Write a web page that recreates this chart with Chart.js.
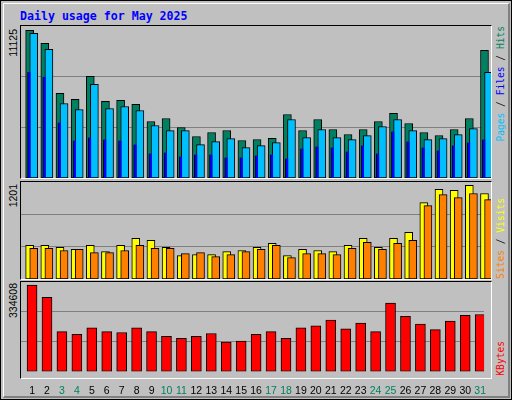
<!DOCTYPE html>
<html>
<head>
<meta charset="utf-8">
<script src="https://cdn.jsdelivr.net/npm/chart.js@4"></script>
<style>
  body { margin: 0; background: #fff; }
  #frame { position: absolute; left: 0; top: 0; width: 510px; height: 398px; border: 1px solid #000; background: #c0c0c0; overflow: hidden; }
  #inner { position: absolute; left: 2px; top: 2px; width: 504px; height: 392px; border-top: 1px solid #fff; border-left: 1px solid #fff; border-right: 2px solid #808080; border-bottom: 2px solid #808080; }
  .panel { position: absolute; left: 19px; width: 470px; border-top: 1px solid #000; border-left: 1px solid #000; border-right: 1px solid #fff; border-bottom: 1px solid #fff; }
  .panel canvas { display: block; }
  #title { position: absolute; left: 19px; top: 8px; font: bold 11.6px "DejaVu Sans Mono", monospace; color: #0000ff; }
  .vt { position: absolute; writing-mode: vertical-rl; transform: rotate(180deg); font: 9.6px "DejaVu Sans Mono", monospace; white-space: pre; }
  .num { font: 10.5px "Liberation Sans", sans-serif; color: #000; }
</style>
</head>
<body>
<div id="frame"><div id="inner"></div>
  <div id="title">Daily usage for May 2025</div>
  <div class="panel" style="top:24px;height:152px"><canvas id="c1" width="470" height="152"></canvas></div>
  <div class="panel" style="top:180px;height:97px"><canvas id="c2" width="470" height="97"></canvas></div>
  <div class="panel" style="top:280px;height:96px"><div style="position:relative;height:120px"><canvas id="c3" width="470" height="120"></canvas></div></div>
  <div class="vt num" style="left:6px;top:28px">11125</div>
  <div class="vt num" style="left:6px;top:183px">1201</div>
  <div class="vt num" style="left:6px;top:282px">334608</div>
  <div class="vt" style="left:494px;top:25px"><span style="color:#00bfff">Pages</span><span style="color:#000"> / </span><span style="color:#0000ff">Files</span><span style="color:#000"> / </span><span style="color:#008060">Hits</span></div>
  <div class="vt" style="left:494px;top:197px"><span style="color:#ff8000">Sites</span><span style="color:#000"> / </span><span style="color:#ffff00">Visits</span></div>
  <div class="vt" style="left:494px;top:340px;color:#ff0000">KBytes</div>
</div>
<script>
var days = [];
for (var i = 1; i <= 31; i++) days.push(i);
var weekendDays = [3, 4, 10, 11, 17, 18, 24, 25, 31];

var hits = [11125,10147,6372,5919,7655,5768,5843,5541,4258,4484,3805,3125,3428,3578,2823,2899,2997,4786,3578,4409,3654,3276,3654,4258,4862,4107,3428,3201,3654,4484,9618];
var files = [10898,9690,5613,5160,7048,5235,5386,5084,3952,3574,3574,2517,2744,2970,2290,2441,2668,4405,3046,3650,3046,2895,3197,3876,4405,3574,2895,2970,3272,3725,7954];
var pages = [7979,7627,4178,2819,3045,2895,2819,2517,1838,1913,1611,1762,1762,1535,1535,1686,1762,1460,2215,2366,2290,1988,2441,1838,3499,2743,2290,2064,2441,2668,2894];
var sites = [431,431,405,379,431,352,431,522,496,405,300,313,313,352,365,405,457,300,379,365,352,431,522,405,522,600,979,1149,1136,1201,1096];
var visits = [392,392,365,379,339,339,365,431,392,392,326,339,287,313,352,379,431,274,326,326,313,392,470,379,457,496,940,1083,1044,1096,1018];
var kbytes = [334608,286814,154438,143407,169147,154438,150761,169147,154438,136053,128699,136053,147084,113990,117667,143407,154438,128699,169147,176501,198563,165470,187532,154438,264751,213272,183855,161792,194886,216949,220626];

function pts(arr) { return arr.map(function (v, i) { return { x: days[i], y: v }; }); }
function xAxis(shift, show) {
  var ax = { type: 'linear', min: 0.5 - shift, max: 31.5 - shift, display: show, offset: false,
    grid: { display: false }, border: { display: false } };
  if (show) {
    ax.afterBuildTicks = function (s) { s.ticks = days.map(function (d) { return { value: d }; }); };
    ax.ticks = { autoSkip: false, maxRotation: 0, padding: 5,
      font: { family: 'Liberation Sans', size: 10.5 },
      color: function (c) { return weekendDays.indexOf(c.tick.value) >= 0 ? '#008060' : '#000'; } };
  }
  return ax;
}
function yAxis(max) {
  return { min: 0, max: max, display: true,
    afterBuildTicks: function (s) { s.ticks = [{ value: max / 3 }, { value: 2 * max / 3 }]; },
    ticks: { display: false }, border: { display: false },
    grid: { color: '#808080', lineWidth: 1, drawTicks: false } };
}
function bar(label, arr, color, axis, w, order, bw) {
  return { label: label, data: pts(arr), backgroundColor: color, borderColor: '#000',
    borderWidth: bw === undefined ? 1 : bw, borderSkipped: false, barThickness: w, xAxisID: axis, order: order, grouped: false };
}
var base = { responsive: false, animation: false, layout: { padding: 0 },
  plugins: { legend: { display: false }, tooltip: { enabled: false } } };

new Chart(document.getElementById('c1'), {
  type: 'bar',
  data: { datasets: [
    bar('Hits', hits, '#008060', 'xh', 8, 3),
    bar('Files', files, '#00bfff', 'xf', 8, 2),
    bar('Pages', pages, '#0000ff', 'xp', 3, 1, { left: 1, right: 0, top: 0, bottom: 0 })
  ] },
  options: Object.assign({}, base, { scales: { xh: xAxis(0.07, false), xf: xAxis(0.34, false), xp: xAxis(0.03, false), y: yAxis(11449) } })
});

new Chart(document.getElementById('c2'), {
  type: 'bar',
  data: { datasets: [
    bar('Sites', sites, '#ffff00', 'xs', 8, 2),
    bar('Visits', visits, '#ff8000', 'xv', 8, 1)
  ] },
  options: Object.assign({}, base, { scales: { xs: xAxis(0.07, false), xv: xAxis(0.34, false), y: yAxis(1244) } })
});

new Chart(document.getElementById('c3'), {
  type: 'bar',
  data: { datasets: [ bar('KBytes', kbytes, '#ff0000', 'xk', 10, 1) ] },
  options: Object.assign({}, base, { scales: { xk: xAxis(0.24, true), y: yAxis(346650) } })
});
</script>
</body>
</html>
